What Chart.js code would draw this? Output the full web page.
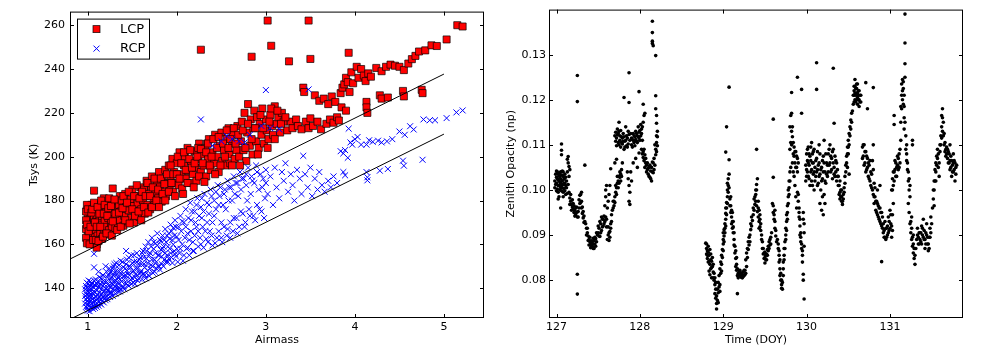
<!DOCTYPE html>
<html>
<head>
<meta charset="utf-8">
<script src="https://cdn.jsdelivr.net/npm/chart.js@4.4.0/dist/chart.umd.min.js"></script>
<style>
  body { margin: 0; background: #fff; width: 981px; height: 354px; position: relative; overflow: hidden; }
  canvas { position: absolute; top: 0; }
  #tsysChart { left: 0; }
  #opacityChart { left: 490px; }
</style>
</head>
<body>
<canvas id="tsysChart" width="490" height="354"></canvas>
<canvas id="opacityChart" width="491" height="354"></canvas>
<script>
// left panel: system temperature vs airmass, [airmass, Tsys K]
const lcpPoints = [
  [1.0,161],[1.0,164.5],[1.0,168],[1.0,171],[1.0,174],[1.01,177],[1.01,162.5],[1.02,166],[1.02,169.5],[1.02,175.5],
  [1.03,163],[1.03,172.5],[1.04,167.5],[1.04,178],[1.05,161.5],[1.05,170],[1.06,165],[1.06,175],[1.07,168],[1.07,172],
  [1.08,163.5],[1.08,176.5],[1.09,166.5],[1.09,170.5],[1.1,160],[1.1,173.5],[1.1,158.5],
  [1.11,164],[1.12,168],[1.12,178],[1.13,171],[1.14,165],[1.14,175],[1.15,169],[1.16,162.5],[1.16,173],[1.17,177],
  [1.18,166],[1.19,170.5],[1.2,174.5],[1.2,164.5],[1.21,168],[1.22,179],[1.23,172],[1.24,166.5],[1.25,176],[1.26,170],
  [1.27,168],[1.28,174],[1.29,179.5],[1.3,171.5],[1.31,167.5],[1.32,176.5],[1.33,173],[1.34,169.5],[1.35,178],
  [1.07,184.5],[1.28,185.5],[1.18,181],[1.36,182],
  [1.36,171],[1.37,175],[1.38,180],[1.4,168.5],[1.41,173],[1.42,183],[1.43,177],[1.45,170.5],[1.46,175.5],[1.48,180.5],
  [1.49,172],[1.5,185],[1.51,177.5],[1.52,170],[1.54,174],[1.55,182],[1.56,178.5],[1.58,172.5],[1.59,186],[1.6,176],
  [1.62,180],[1.63,185],[1.64,174],[1.66,189],[1.67,178],[1.68,183],[1.7,176],[1.71,186.5],[1.72,191],[1.74,180.5],
  [1.75,178],[1.76,184],[1.78,188],[1.79,181],[1.8,193],[1.81,186],[1.83,179.5],[1.84,190],[1.85,184],[1.87,194],
  [1.88,182],[1.9,188],
  [1.91,196],[1.92,185],[1.93,191],[1.95,199],[1.96,184],[1.97,193],[1.99,188],[2.0,197],[2.02,187],[2.03,202],
  [2.05,192],[2.06,185.5],[2.08,196],[2.09,200],[2.1,190],[2.12,204],[2.13,193.5],[2.15,188],[2.16,198],[2.18,192],
  [2.2,202.5],[2.21,195],[2.22,189],[2.24,199],[2.25,206],[2.27,193],[2.28,201],[2.24,204],[2.34,206],[2.58,213],
  [2.3,196],[2.32,204],[2.33,191],[2.35,199],[2.36,208],[2.38,194],[2.4,202],[2.42,197],[2.43,210],[2.45,200],
  [2.47,193],[2.48,205],[2.5,211],[2.51,198],[2.53,203],[2.55,196],[2.56,208],[2.59,201],[2.6,197],[2.62,206],
  [2.63,210],[2.65,199],[2.67,203],[2.68,214],
  [2.7,200],[2.72,207],[2.73,216],[2.75,203],[2.76,220],[2.78,198],[2.79,211],[2.8,224],[2.82,205],[2.83,217],
  [2.85,201],[2.86,213],[2.87,221],[2.89,207],[2.9,218],[2.92,204],[2.93,215],[2.95,210],[2.96,222],[2.98,206],
  [3.0,217],[3.01,212],[3.03,208],[3.05,219],[3.07,214],[3.08,210],[3.1,223],[3.12,215],[3.14,218],[3.16,211],
  [3.18,220],[3.2,216],
  [3.24,212],[3.28,216],[3.3,213],[3.34,217],[3.36,214],[3.4,212.5],[3.42,231.5],[3.43,229.5],[3.45,216],[3.48,213],
  [3.5,217.5],[3.53,214],[3.55,228],[3.58,216],[3.6,225.5],[3.62,212.5],[3.65,226.5],[3.68,215],[3.7,224],[3.72,217],
  [3.74,227.5],[3.76,215.5],[3.78,225],[3.8,218],[3.82,216.5],
  [3.84,229],[3.86,231.5],[3.88,233],[3.9,236],[3.92,234],[3.94,229.5],[3.96,238.5],[3.98,233.5],[4.02,241],[4.04,236],
  [4.07,240],[4.1,237],[4.12,234.5],[4.15,238],[4.18,236.5],
  [3.85,222.5],[3.9,221],[4.13,225],[4.13,222.5],[4.14,220],[4.28,228],[4.3,226.5],[4.37,227],[4.54,230],[4.55,227.5],
  [4.75,230.5],[4.76,229],
  [4.24,240.5],[4.3,239],[4.35,241],[4.4,242],[4.45,241.5],[4.5,241],[4.55,239.5],[4.6,242.5],[4.64,244.5],[4.68,246],
  [4.72,248],[4.79,248.5],[4.86,250.8],[4.92,250.5],[5.03,253.5],[5.15,260],[5.21,259.4],
  [2.27,248.8],[2.84,245.6],[3.02,262.1],[3.48,262.1],[3.06,250.6],[3.26,243.5],[3.5,244.6],[3.93,247.4]
];

const lcpPointsMore = [
  [0.98,163],[0.98,167],[0.98,171],[0.98,175],[0.99,160.5],[0.99,169],[0.99,178],[1.0,176],[1.01,166],[1.02,160],
  [1.03,168],[1.04,174.5],[1.05,176],[1.06,162],[1.07,179],[1.08,170],[1.09,162],[1.1,168],[1.11,177],[1.12,161.5],
  [1.13,174],[1.14,168],[1.15,180],[1.17,163.5],[1.18,174],[1.19,178],[1.21,165],[1.22,173],[1.23,176.5],[1.24,181],
  [1.26,177.5],[1.27,164],[1.28,170.5],[1.3,180.5],[1.31,174],[1.33,166.5],[1.35,174.5],[1.37,168],[1.39,176.5],[1.4,182],
  [1.42,171],[1.44,179],[1.46,184],[1.47,169.5],[1.5,176],[1.52,182],[1.53,173],[1.55,187],[1.57,175],[1.58,181],
  [1.6,171],[1.61,184],[1.63,177],[1.65,182],[1.67,188],[1.68,174.5],[1.7,182],[1.72,177],[1.73,186],[1.75,190],
  [1.77,180],[1.79,185],[1.8,177],[1.82,190],[1.84,183],[1.86,187.5],[1.87,180],[1.89,192],[1.91,184],[1.93,196],
  [1.94,188],[1.96,192],[1.98,182],[2.0,192],[2.01,200],[2.03,190],[2.05,197],[2.07,183],[2.08,202],[2.1,194],
  [2.12,188],[2.14,199],[2.15,203],[2.17,195],[2.19,186],[2.2,197],[2.23,200],[2.25,191],[2.27,203.5],[2.29,197],
  [2.31,188.5],[2.33,202],[2.35,206],[2.37,196],[2.39,200],[2.41,208],[2.43,192],[2.45,204],[2.47,209],[2.49,196],
  [2.52,206],[2.54,200],[2.56,212],[2.58,204],[2.6,208],[2.62,196],[2.64,213],[2.66,206],[2.69,210],[2.71,196],
  [2.74,212],[2.77,204],[2.8,215],[2.84,208],[2.88,213],[2.91,201],[2.94,219],[2.97,213],[3.02,204],[3.04,216],
  [3.06,222],[3.1,208],[3.13,221],[3.17,215],[3.22,218]
];

const rcpPoints = [
  [0.99,131],[0.99,134],[0.99,137],[0.99,140],[1.0,132.5],[1.0,135.5],[1.0,138.5],[1.0,142],[1.01,130.5],[1.01,133.5],
  [1.01,136.5],[1.01,140],[1.02,132],[1.02,135],[1.02,138],[1.02,141.5],[1.03,131],[1.03,134],[1.03,137],[1.03,143],
  [1.04,133],[1.04,136],[1.04,139.5],[1.05,131.5],[1.05,135],[1.05,142],[1.06,133.5],[1.06,137.5],[1.06,140.5],[1.07,132],
  [1.07,135.5],[1.07,143.5],[1.08,134],[1.08,138],[1.09,132.5],[1.09,136],[1.09,141],[1.1,134.5],[1.1,139],[1.11,133],
  [1.11,137],[1.11,143],[1.12,135.5],[1.12,140.5],[1.13,134],[1.13,138],[1.14,136.5],[1.14,142],[1.15,135],[1.15,139.5],
  [1.16,137.5],[1.16,144],[1.17,136],[1.17,141],[1.18,138.5],[1.19,135.5],[1.19,143],[1.2,137],[1.2,140],
  [1.07,155.7],[1.07,149.5],[1.43,157],[1.12,147.5],[1.2,150],[1.3,151],
  [1.21,136],[1.22,139],[1.22,145],[1.23,142],[1.24,137.5],[1.25,147],[1.25,140.5],[1.26,144],[1.27,138],[1.28,149],
  [1.28,141.5],[1.29,146],[1.3,139],[1.31,143.5],[1.32,148],[1.33,140],[1.34,145],[1.35,150.5],[1.35,142],[1.36,138.5],
  [1.37,147],[1.38,143],[1.39,152],[1.4,140.5],[1.41,145.5],[1.42,149],[1.43,142],[1.44,153],[1.45,146.5],[1.46,141],
  [1.47,150],[1.48,144],[1.49,155],[1.5,147.5],[1.51,142.5],[1.52,152],[1.53,145],[1.54,149],[1.55,156],[1.56,143.5],
  [1.57,151],[1.58,146.5],[1.59,154],[1.6,148],
  [1.61,144],[1.62,157],[1.63,151],[1.64,146],[1.65,159],[1.66,153.5],[1.67,148],[1.68,161],[1.69,145.5],[1.7,156],
  [1.71,150.5],[1.72,163],[1.73,147],[1.74,158],[1.75,153],[1.76,160.5],[1.77,149],[1.78,165],[1.79,155],[1.8,150],
  [1.81,162],[1.82,157.5],[1.83,151],[1.84,164],[1.85,159],[1.86,153],[1.87,167],[1.88,161],[1.89,155],[1.9,152],
  [1.91,165],[1.92,158],[1.93,169],[1.94,154],[1.95,162],[1.96,167.5],[1.97,157],[1.98,171],[1.99,154.5],[2.0,163.5],
  [2.02,168],[2.03,156],[2.04,173],[2.06,160],[2.07,152.5],[2.08,170],[2.1,176],[2.11,158],[2.12,165],[2.14,155],
  [2.15,179],[2.16,171],[2.18,161],[2.19,157],[2.2,175],[2.22,168],[2.23,181],[2.24,159],[2.26,163],[2.27,177],
  [2.28,172],[2.3,158.5],[2.31,183],[2.32,166],[2.34,179],[2.35,161],[2.36,174],[2.38,185],[2.39,164],[2.4,170],
  [2.42,180],[2.43,160.5],[2.44,176],[2.46,187],[2.47,166],[2.48,182],[2.5,163],
  [2.52,178],[2.53,168],[2.54,185],[2.56,164],[2.57,189],[2.58,180],[2.6,170],[2.61,186],[2.63,166],[2.64,191],
  [2.65,183],[2.67,172],[2.68,188],[2.7,168],[2.71,193],[2.72,185],[2.74,174],[2.75,190],[2.77,170],[2.78,187],
  [2.8,195],[2.81,176],[2.83,183],[2.84,191],[2.86,173],[2.87,188],[2.89,196],[2.9,178],[2.92,185],[2.94,192],
  [2.95,175],[2.97,190],[2.99,181],[3.0,194],
  [2.56,209.5],[2.62,208],[2.7,207],[2.76,206.5],[2.82,210],[2.27,217],[2.4,205],[2.5,207],[2.95,214],[3.05,213],
  [3.15,212.5],[3.0,230.4],[3.48,230.7],
  [3.02,183],[3.05,191],[3.08,178],[3.1,195],[3.12,186],[3.15,181],[3.18,193],[3.2,189],[3.22,197],[3.25,184],
  [3.28,192],[3.3,187],[3.32,180],[3.35,194],[3.38,190],[3.4,183],[3.42,200.4],[3.44,192],[3.47,186],[3.5,195],
  [3.52,182],[3.55,190],[3.58,185],[3.6,193],[3.63,187],[3.66,184],[3.7,189],[3.73,186],[3.76,191],[3.8,188],
  [3.84,202.5],[3.87,201.5],[3.89,203],[3.92,199.5],[3.95,206.5],[3.97,205.5],[4.0,208],[4.03,209],[4.07,205.5],[4.13,205.5],
  [4.16,207.5],[4.2,206.8],[4.26,207.3],[4.3,206.5],[4.36,207],[4.42,208],[4.5,211.5],[4.56,210],[4.62,213.9],[4.66,212.4],
  [3.93,212.8],
  [3.87,193],[3.89,191.5],[4.13,193],[4.14,190.6],[4.14,189.2],[4.28,193.6],[4.37,194.4],[4.54,198.2],[4.55,195.9],[4.76,198.6],
  [4.77,217],[4.84,216.6],[4.9,216.6],[5.03,217.6],[5.14,220.2],[5.21,221.1]
];

const rcpPointsMore = [
  [0.97,133],[0.97,136.5],[0.97,139.5],[0.98,131.5],[0.98,135],[0.98,138],[0.98,141],[0.99,142.5],[1.0,129.8],[1.01,143.5],
  [1.02,129.5],[1.03,140],[1.04,142],[1.05,138],[1.06,130.5],[1.07,138.5],[1.08,131],[1.08,141.5],[1.09,144],[1.1,131.5],
  [1.1,142],[1.12,132],[1.13,141],[1.13,145],[1.14,133],[1.15,132.5],[1.15,144.5],[1.16,134],[1.17,146],[1.18,133.5],
  [1.18,142],[1.19,139],[1.2,134.5],[1.21,143],[1.21,147.5],[1.22,135],[1.23,139],[1.23,146],[1.24,141],[1.24,149],
  [1.25,136],[1.26,138],[1.26,147.5],[1.27,142.5],[1.27,145],[1.28,136.5],[1.29,140],[1.29,150],[1.3,143],[1.3,147],
  [1.31,137.5],[1.32,141.5],[1.32,151.5],[1.33,144],[1.33,146.5],[1.34,138.5],[1.35,140],[1.36,144],[1.36,148.5],[1.37,139.5],
  [1.37,152.5],[1.38,146],[1.39,141],[1.4,149.5],[1.4,144],[1.41,139.5],[1.42,146],[1.43,151],[1.44,143.5],[1.44,148],
  [1.45,141.5],[1.46,154],[1.47,146],[1.48,149.5],[1.49,142],[1.5,151.5],[1.5,144.5],[1.51,148],[1.52,155],[1.53,142],
  [1.54,146.5],[1.55,152],[1.56,149],[1.57,144.5],[1.58,153],[1.59,147],[1.6,151],[1.61,156],[1.62,146.5],[1.63,154],
  [1.64,149.5],[1.65,144.5],[1.66,157],[1.67,151.5],[1.68,146],[1.69,155],[1.7,149],[1.71,159],[1.72,153],[1.73,150],
  [1.74,161],[1.75,147.5],[1.76,156],[1.77,152],[1.78,159.5],[1.79,150],[1.8,155],[1.81,148.5],[1.82,161.5],[1.83,154.5],
  [1.84,158],[1.85,150],[1.86,162],[1.87,156],[1.88,152],[1.89,164],[1.9,159],[1.91,153.5],[1.92,162.5],[1.93,156],
  [1.94,166],[1.95,151.5],[1.96,160],[1.97,164],[1.98,155.5],[1.99,168],[2.0,158],[2.01,152],[2.02,162],[2.04,158],
  [2.05,166],[2.06,170.5],[2.08,155],[2.09,163],[2.1,168],[2.12,158.5],[2.13,172],[2.14,162],[2.16,166],[2.17,175],
  [2.18,157],[2.2,164],[2.21,170],[2.22,178],[2.24,166],[2.25,173],[2.27,160],[2.28,181],[2.29,168],[2.3,175],
  [2.33,162.5],[2.34,170],[2.36,178],[2.37,166],[2.39,182],[2.4,159.5],[2.42,173],[2.44,184],[2.45,163],[2.47,178],
  [2.49,186],[2.5,170],[2.51,161],[2.53,183],[2.55,176],[2.57,167],[2.59,186],[2.6,163],[2.62,180],[2.64,172],
  [2.66,188],[2.68,165],[2.69,182],[2.72,175],[2.73,190],[2.76,168],[2.78,192],[2.79,180],[2.82,173],[2.85,189],
  [2.88,171],[2.9,193],[2.93,176],[2.96,186],[2.98,172],[3.0,188]
];

// straight fit lines, [airmass, Tsys] end points
const fitUpper = [[0.8,153.3],[5.0,237.7]];
const fitLower = [[0.8,125.8],[5.0,210.3]];

const airmassTicks = [1, 2, 3, 4, 5];
const tsysTicks = [140, 160, 180, 200, 220, 240, 260];

// right panel: zenith opacity vs time, [DOY, opacity np]
const opacityPoints = [
  [126.99,0.1035],[127.0,0.1028],[127.0,0.1015],[127.01,0.1040],[127.01,0.1002],[127.02,0.1022],[127.02,0.0995],[127.03,0.1031],
  [127.03,0.1010],[127.04,0.1038],[127.04,0.1018],[127.05,0.1025],[127.05,0.1005],[127.06,0.1033],[127.06,0.0998],[127.07,0.1020],
  [127.07,0.1042],[127.08,0.1012],[127.08,0.1030],[127.09,0.1003],[127.09,0.1024],[127.1,0.1015],[127.1,0.1035],[127.11,0.0990],
  [127.11,0.1010],[127.06,0.1102],[127.06,0.1088],[127.06,0.1078],[127.13,0.1068],[127.14,0.1060],[127.15,0.1052],[127.16,0.1045],
  [127.14,0.1074],[127.05,0.0960],
  [127.15,0.0995],[127.16,0.0982],[127.17,0.0975],[127.18,0.0968],[127.19,0.0962],[127.2,0.0958],[127.2,0.0970],[127.21,0.0950],
  [127.22,0.0955],[127.23,0.0945],[127.24,0.0962],[127.25,0.0940],[127.26,0.0952],[127.27,0.0978],[127.28,0.0988],[127.29,0.0972],
  [127.3,0.0960],[127.31,0.0948],[127.32,0.0938],[127.33,0.0942],[127.34,0.0930],
  [127.25,0.1254],[127.25,0.1196],[127.25,0.0813],[127.25,0.0769],[127.34,0.1055],
  [127.35,0.0925],[127.36,0.0915],[127.37,0.0905],[127.38,0.0898],[127.39,0.0890],[127.4,0.0885],[127.41,0.0880],[127.42,0.0887],
  [127.43,0.0875],[127.44,0.0893],[127.45,0.0870],[127.46,0.0880],[127.47,0.0892],[127.48,0.0885],[127.49,0.0900],
  [127.5,0.0905],[127.51,0.0915],[127.52,0.0897],[127.53,0.0925],[127.54,0.0910],[127.55,0.0935],[127.56,0.0920],[127.57,0.0942],
  [127.58,0.0930],[127.58,0.0965],[127.59,0.1000],[127.6,0.0918],[127.6,0.1010],[127.61,0.0890],[127.62,0.0900],[127.62,0.0975],
  [127.63,0.0888],[127.64,0.0908],[127.65,0.0925],[127.66,0.0945],[127.65,0.1047],
  [127.68,0.0960],[127.69,0.0975],[127.7,0.0985],[127.71,0.0995],[127.72,0.1005],[127.73,0.1015],[127.74,0.1020],[127.75,0.1030],
  [127.76,0.1028],[127.77,0.1035],[127.7,0.1060],[127.72,0.1068],
  [127.71,0.1128],[127.72,0.1115],[127.73,0.1122],[127.74,0.1105],[127.75,0.1130],[127.76,0.1110],[127.77,0.1095],[127.78,0.1118],
  [127.79,0.1102],[127.8,0.1125],[127.81,0.1090],[127.82,0.1108],[127.83,0.1140],[127.84,0.1098],[127.85,0.1115],[127.86,0.1102],
  [127.87,0.1123],[127.75,0.1150],
  [127.85,0.1040],[127.86,0.1025],[127.87,0.1010],[127.88,0.0995],[127.87,0.0975],[127.88,0.0968],
  [127.87,0.1260],[127.81,0.1205],[127.87,0.1194],[127.99,0.1218],[128.04,0.1190],
  [127.9,0.1100],[127.91,0.1112],[127.92,0.1125],[127.93,0.1105],[127.94,0.1118],[127.95,0.1130],[127.96,0.1108],[127.97,0.1120],
  [127.98,0.1140],[127.99,0.1115],[128.0,0.1132],[128.01,0.1145],[128.02,0.1125],[128.03,0.1110],[128.04,0.1150],[128.05,0.1165],
  [128.06,0.1170],
  [128.03,0.1080],[128.04,0.1072],[128.05,0.1065],[128.06,0.1078],[128.07,0.1060],
  [128.08,0.1055],[128.09,0.1045],[128.1,0.1035],[128.11,0.1050],[128.12,0.1028],[128.13,0.1042],[128.14,0.1020],[128.15,0.1062],
  [128.16,0.1038],[128.17,0.1070],
  [128.15,0.1374],[128.15,0.1349],[128.15,0.1330],[128.15,0.1325],[128.16,0.1320],[128.19,0.1298],
  [128.19,0.1209],[128.19,0.1180],[128.2,0.1165],[128.2,0.1148],[128.21,0.1130],[128.21,0.1118],[128.2,0.1105],[128.21,0.1098],
  [128.2,0.1085],[128.19,0.1078],
  [128.79,0.0882],[128.8,0.0870],[128.8,0.0858],[128.81,0.0865],[128.81,0.0848],[128.82,0.0875],[128.82,0.0840],[128.83,0.0855],
  [128.83,0.0820],[128.84,0.0835],[128.84,0.0812],[128.85,0.0845],[128.86,0.0828],[128.86,0.0805],[128.87,0.0850],[128.88,0.0818],
  [128.89,0.0800],[128.9,0.0790],[128.9,0.0770],[128.91,0.0780],[128.91,0.0760],[128.92,0.0748],[128.92,0.0736],[128.93,0.0755],
  [128.94,0.0772],[128.94,0.0795],[128.95,0.0810],[128.96,0.0790],[128.96,0.0825],[128.97,0.0840],[128.98,0.0855],[128.98,0.0835],
  [128.99,0.0868],[129.0,0.0880],[129.0,0.0890],[129.01,0.0898],[129.01,0.0912],[129.02,0.0905],[129.02,0.0925],[129.03,0.0935],
  [129.03,0.0948],[129.04,0.0960],[129.04,0.0972],[129.05,0.0985],[129.05,0.1000],[129.06,0.1010],[129.06,0.1025],[129.07,0.1035],
  [129.04,0.1140],[129.07,0.1228],[129.03,0.1084],[129.07,0.1067],
  [129.08,0.0980],[129.09,0.0965],[129.09,0.0950],[129.1,0.0940],[129.1,0.0925],[129.11,0.0915],[129.12,0.0930],[129.12,0.0905],
  [129.13,0.0890],[129.14,0.0875],[129.14,0.0860],[129.15,0.0848],[129.16,0.0835],[129.16,0.0822],[129.17,0.0810],[129.18,0.0815],
  [129.17,0.0770],
  [129.19,0.0820],[129.2,0.0812],[129.21,0.0808],[129.22,0.0815],[129.23,0.0805],[129.24,0.0818],[129.25,0.0810],[129.26,0.0822],
  [129.27,0.0815],[129.28,0.0830],[129.27,0.0845],[129.28,0.0860],[129.29,0.0850],[129.3,0.0868],[129.31,0.0878],[129.32,0.0885],
  [129.32,0.0900],[129.33,0.0912],[129.34,0.0920],[129.35,0.0932],[129.36,0.0945],[129.37,0.0955],[129.38,0.0968],[129.38,0.0985],
  [129.39,0.1000],[129.4,0.1012],[129.41,0.1025],
  [129.4,0.1090],[129.39,0.0975],[129.4,0.0965],[129.41,0.0952],[129.42,0.0940],[129.43,0.0930],[129.44,0.0918],[129.45,0.0910],
  [129.42,0.0960],[129.44,0.0945],
  [129.46,0.0900],[129.47,0.0885],[129.48,0.0870],[129.49,0.0860],[129.5,0.0850],[129.5,0.0838],[129.51,0.0845],[129.52,0.0858],
  [129.53,0.0868],[129.54,0.0875],[129.55,0.0885],[129.56,0.0878],[129.57,0.0895],
  [129.6,0.1157],[129.6,0.1028],[129.59,0.0970],[129.6,0.0950],[129.61,0.0935],[129.62,0.0915],[129.63,0.0898],[129.64,0.0885],
  [129.62,0.0955],
  [129.66,0.0870],[129.67,0.0855],[129.67,0.0840],[129.68,0.0825],[129.68,0.0810],[129.69,0.0800],[129.7,0.0790],[129.7,0.0782],
  [129.71,0.0795],[129.72,0.0810],
  [129.72,0.0840],[129.73,0.0855],[129.73,0.0870],[129.74,0.0885],[129.75,0.0900],[129.75,0.0915],[129.76,0.0930],[129.77,0.0950],
  [129.77,0.0965],[129.78,0.0985],[129.79,0.1005],[129.79,0.1020],[129.8,0.1040],
  [129.8,0.1140],[129.81,0.1165],[129.82,0.1130],[129.82,0.1100],[129.83,0.1118],[129.84,0.1080],[129.85,0.1095],[129.86,0.1060],
  [129.87,0.1085],[129.88,0.1050],[129.89,0.1070],[129.82,0.1216],[129.89,0.1250],[129.82,0.1170],[129.84,0.1040],[129.86,0.1010],
  [129.87,0.0985],[129.88,0.0960],[129.89,0.0995],
  [129.9,0.0975],[129.91,0.0960],[129.91,0.0940],[129.92,0.0920],[129.93,0.0905],[129.93,0.0885],[129.94,0.0870],[129.95,0.0855],
  [129.95,0.0840],[129.96,0.0950],[129.97,0.0925],[129.94,0.1223],[129.94,0.1170],[129.96,0.0813],[129.96,0.0800],[129.97,0.0758],
  [129.99,0.1020],[130.0,0.1045],[130.0,0.1080],[130.01,0.1065],[130.02,0.1030],[130.02,0.1095],[130.03,0.1055],[130.04,0.1010],
  [130.04,0.1075],[130.05,0.1040],[130.06,0.1105],[130.06,0.1020],[130.07,0.1060],[130.08,0.1035],[130.08,0.1085],[130.09,0.1000],
  [130.1,0.1050],[130.12,0.1282],[130.12,0.1223],
  [130.11,0.1030],[130.12,0.1070],[130.13,0.1045],[130.14,0.1015],[130.15,0.1060],[130.16,0.1035],[130.17,0.1000],[130.18,0.1050],
  [130.19,0.1025],[130.2,0.1075],[130.21,0.0990],[130.22,0.1040],[130.23,0.1015],[130.24,0.1060],[130.25,0.1030],[130.16,0.0970],
  [130.18,0.0955],[130.2,0.0945],[130.15,0.1100],[130.21,0.1110],
  [130.26,0.1080],[130.27,0.1055],[130.28,0.1100],[130.29,0.1040],[130.3,0.1070],[130.31,0.1025],[130.32,0.1090],[130.33,0.1050],
  [130.34,0.1030],[130.35,0.1065],[130.36,0.1020],[130.37,0.1045],[130.32,0.1270],[130.33,0.1148],
  [130.38,0.1030],[130.39,0.1010],[130.4,0.0995],[130.41,0.0985],[130.42,0.0975],[130.43,0.0968],[130.44,0.0980],[130.45,0.0995],
  [130.4,0.1020],[130.42,0.1000],
  [130.46,0.1015],[130.47,0.1040],[130.48,0.1060],[130.49,0.1080],[130.5,0.1095],[130.5,0.1110],[130.51,0.1125],[130.52,0.1140],
  [130.53,0.1155],[130.54,0.1170],[130.49,0.1050],[130.51,0.1035],
  [130.56,0.1190],[130.57,0.1230],[130.57,0.1210],[130.58,0.1245],[130.58,0.1200],[130.59,0.1225],[130.59,0.1195],[130.6,0.1215],
  [130.6,0.1235],[130.61,0.1205],[130.61,0.1190],[130.62,0.1220],[130.62,0.1200],[130.63,0.1185],[130.64,0.1210],[130.65,0.1195],
  [130.71,0.1238],[130.73,0.1180],[130.8,0.1227],
  [130.67,0.1095],[130.68,0.1075],[130.69,0.1100],[130.7,0.1060],[130.71,0.1085],[130.72,0.1045],[130.73,0.1070],[130.74,0.1030],
  [130.75,0.1055],[130.76,0.1020],[130.77,0.1040],[130.78,0.1005],[130.79,0.1065],[130.8,0.1100],[130.81,0.1015],
  [130.8,0.0990],[130.81,0.0970],[130.82,0.0985],[130.83,0.0955],[130.84,0.0975],[130.85,0.0945],[130.86,0.0965],[130.87,0.0935],
  [130.88,0.0960],[130.89,0.0925],[130.9,0.0950],[130.91,0.0915],[130.85,0.1000],[130.88,0.1010],
  [130.92,0.0905],[130.93,0.0895],[130.94,0.0930],[130.95,0.0890],[130.96,0.0915],[130.97,0.0900],[130.98,0.0940],[130.99,0.0910],
  [131.0,0.0955],[131.01,0.0925],[131.02,0.0895],[131.03,0.0945],[131.04,0.0970],[130.9,0.0841],
  [131.02,0.1000],[131.03,0.1025],[131.04,0.1010],[131.05,0.1040],[131.06,0.1065],[131.07,0.1030],[131.08,0.1050],[131.09,0.1075],
  [131.1,0.1045],[131.11,0.1080],[131.12,0.1060],[131.05,0.1165],[131.05,0.1145],
  [131.13,0.1150],[131.13,0.1185],[131.14,0.1210],[131.14,0.1235],[131.15,0.1200],[131.15,0.1245],[131.16,0.1225],[131.16,0.1190],
  [131.17,0.1160],[131.17,0.1135],[131.18,0.1390],[131.18,0.1326],[131.18,0.1280],[131.18,0.1250],
  [131.19,0.1120],[131.2,0.1100],[131.2,0.1080],[131.21,0.1060],[131.22,0.1040],[131.23,0.1025],[131.24,0.1010],[131.27,0.1110],
  [131.27,0.1100],
  [131.22,0.0970],[131.23,0.0950],[131.24,0.0925],[131.25,0.0905],[131.26,0.0890],[131.27,0.0875],[131.28,0.0860],[131.29,0.0848],
  [131.3,0.0835],[131.26,0.0940],[131.28,0.0900],
  [131.33,0.0915],[131.34,0.0895],[131.35,0.0880],[131.36,0.0905],[131.37,0.0885],[131.38,0.0920],[131.39,0.0900],[131.4,0.0935],
  [131.41,0.0890],[131.42,0.0870],[131.43,0.0905],[131.44,0.0925],[131.45,0.0880],[131.46,0.0865],[131.47,0.0895],[131.48,0.0915],
  [131.49,0.0940],
  [131.52,0.0980],[131.53,0.1000],[131.54,0.1020],[131.55,0.1040],[131.55,0.1060],[131.56,0.1075],[131.57,0.1090],[131.58,0.1050],
  [131.59,0.1030],[131.53,0.0965],
  [131.6,0.1100],[131.61,0.1120],[131.62,0.1140],[131.63,0.1160],[131.63,0.1180],[131.64,0.1150],[131.65,0.1125],[131.66,0.1105],
  [131.67,0.1090],
  [131.68,0.1095],[131.69,0.1070],[131.7,0.1085],[131.71,0.1060],[131.72,0.1045],[131.73,0.1075],[131.74,0.1030],[131.75,0.1055],
  [131.76,0.1040],[131.77,0.1065],[131.78,0.1020],[131.79,0.1050],[131.72,0.1100],[131.76,0.1080]
];

const opacityPointsMore = [
  [126.98,0.1020],[126.98,0.1005],[126.99,0.1012],[127.0,0.0998],[127.0,0.1042],[127.01,0.1025],[127.02,0.1035],[127.02,0.1010],
  [127.03,0.1020],[127.04,0.1000],[127.04,0.1030],[127.05,0.1040],[127.05,0.1015],[127.06,0.1010],[127.07,0.1005],[127.08,0.1040],
  [127.08,0.0995],[127.09,0.1015],[127.1,0.0998],[127.11,0.1028],[127.12,0.1005],[127.12,0.1020],[127.13,0.0992],[127.13,0.1040],
  [127.14,0.1012],[127.15,0.1030],[127.03,0.0985],[127.02,0.0980],[127.08,0.0985],
  [127.16,0.0968],[127.17,0.0990],[127.18,0.0955],[127.19,0.0978],[127.21,0.0965],[127.22,0.0942],[127.23,0.0960],[127.24,0.0950],
  [127.26,0.0940],[127.27,0.0960],[127.28,0.0970],[127.29,0.0990],[127.3,0.0975],[127.31,0.0962],[127.32,0.0952],[127.33,0.0928],
  [127.3,0.0995],
  [127.36,0.0900],[127.37,0.0915],[127.38,0.0888],[127.39,0.0878],[127.4,0.0895],[127.41,0.0872],[127.42,0.0878],[127.43,0.0885],
  [127.44,0.0880],[127.45,0.0888],[127.46,0.0895],[127.47,0.0875],[127.48,0.0905],[127.44,0.0870],
  [127.5,0.0920],[127.51,0.0898],[127.52,0.0930],[127.53,0.0905],[127.54,0.0940],[127.55,0.0918],[127.56,0.0935],[127.57,0.0925],
  [127.59,0.0940],[127.6,0.0935],[127.61,0.0960],[127.59,0.0985],[127.62,0.0918],[127.63,0.0905],[127.64,0.0895],[127.65,0.0915],
  [127.66,0.0930],[127.67,0.0955],[127.64,0.1010],[127.63,0.0990],
  [127.68,0.0975],[127.69,0.0965],[127.7,0.0972],[127.71,0.1010],[127.72,0.0990],[127.73,0.1030],[127.74,0.1005],[127.75,0.1015],
  [127.76,0.1040],[127.77,0.1020],[127.78,0.1045],[127.79,0.1060],[127.78,0.1030],
  [127.7,0.1120],[127.71,0.1108],[127.72,0.1098],[127.73,0.1135],[127.74,0.1125],[127.75,0.1100],[127.76,0.1120],[127.77,0.1132],
  [127.78,0.1105],[127.79,0.1115],[127.8,0.1108],[127.81,0.1118],[127.82,0.1095],[127.83,0.1110],[127.84,0.1120],[127.85,0.1095],
  [127.86,0.1130],[127.88,0.1110],[127.89,0.1125],[127.9,0.1115],[127.91,0.1095],[127.92,0.1110],[127.93,0.1120],[127.94,0.1098],
  [127.95,0.1112],[127.96,0.1125],[127.97,0.1105],[127.98,0.1118],[127.99,0.1128],[128.0,0.1110],[128.01,0.1120],[128.02,0.1135],
  [128.03,0.1140],[127.89,0.1040],[127.9,0.1020],[127.92,0.1060],[127.95,0.1070],[127.97,0.1050],[127.99,0.1082],
  [128.02,0.1090],[128.04,0.1085],[128.05,0.1090],[128.06,0.1050],[128.07,0.1070],[128.08,0.1040],[128.09,0.1060],[128.1,0.1048],
  [128.11,0.1030],[128.12,0.1055],[128.13,0.1025],[128.14,0.1050],[128.15,0.1040],[128.16,0.1060],[128.17,0.1045],[128.18,0.1055],
  [128.18,0.1100],[128.19,0.1090],[128.2,0.1120],
  [128.8,0.0880],[128.81,0.0855],[128.82,0.0862],[128.83,0.0842],[128.84,0.0868],[128.85,0.0825],[128.85,0.0858],[128.86,0.0842],
  [128.87,0.0830],[128.88,0.0805],[128.88,0.0835],[128.89,0.0815],[128.9,0.0805],[128.91,0.0795],[128.92,0.0765],[128.93,0.0780],
  [128.94,0.0750],[128.95,0.0785],[128.96,0.0775],[128.97,0.0815],[128.98,0.0820],[128.99,0.0850],[129.0,0.0865],[129.0,0.0905],
  [129.01,0.0885],[129.02,0.0915],[129.03,0.0920],[129.03,0.0960],[129.04,0.0945],[129.05,0.0970],[129.05,0.1015],[129.06,0.0995],
  [129.07,0.1005],
  [129.08,0.0965],[129.09,0.0985],[129.1,0.0955],[129.11,0.0930],[129.11,0.0950],[129.12,0.0918],[129.13,0.0905],[129.13,0.0878],
  [129.15,0.0865],[129.15,0.0830],[129.16,0.0850],[129.17,0.0825],[129.18,0.0805],[129.19,0.0812],[129.2,0.0822],[129.21,0.0816],
  [129.22,0.0806],[129.23,0.0812],[129.24,0.0808],[129.25,0.0822],[129.26,0.0812],[129.29,0.0870],[129.3,0.0885],[129.31,0.0895],
  [129.33,0.0925],[129.34,0.0940],[129.36,0.0960],[129.37,0.0980],[129.39,0.0990],[129.4,0.1000],[129.42,0.0975],[129.43,0.0955],
  [129.44,0.0935],[129.45,0.0925],[129.43,0.0915],
  [129.46,0.0890],[129.47,0.0870],[129.48,0.0858],[129.49,0.0848],[129.5,0.0862],[129.51,0.0855],[129.52,0.0845],[129.53,0.0855],
  [129.54,0.0865],[129.55,0.0870],[129.56,0.0890],[129.57,0.0880],[129.58,0.0905],[129.6,0.0965],[129.61,0.0945],[129.62,0.0930],
  [129.63,0.0910],[129.65,0.0890],[129.66,0.0880],[129.67,0.0865],[129.68,0.0845],[129.69,0.0815],[129.7,0.0800],[129.71,0.0780],
  [129.72,0.0825],
  [129.73,0.0845],[129.74,0.0870],[129.75,0.0890],[129.76,0.0910],[129.76,0.0945],[129.77,0.0935],[129.78,0.0970],[129.78,0.1000],
  [129.79,0.0990],[129.8,0.1020],[129.8,0.1090],[129.81,0.1105],[129.81,0.1050],[129.83,0.1060],[129.83,0.1140],[129.84,0.1105],
  [129.85,0.1075],[129.85,0.1030],[129.86,0.1085],[129.87,0.1050],[129.88,0.1075],[129.89,0.1040],[129.9,0.1060],
  [129.9,0.0990],[129.91,0.0950],[129.92,0.0935],[129.92,0.0900],[129.93,0.0895],[129.94,0.0880],[129.95,0.0865],[129.96,0.0935],
  [129.97,0.0905],[129.97,0.0875],
  [129.99,0.1055],[130.0,0.1030],[130.01,0.1090],[130.01,0.1040],[130.02,0.1060],[130.03,0.1080],[130.03,0.1025],[130.05,0.1065],
  [130.05,0.1095],[130.06,0.1045],[130.07,0.1080],[130.07,0.1010],[130.08,0.1060],[130.09,0.1040],[130.09,0.1090],[130.1,0.1020],
  [130.11,0.1065],[130.12,0.1040],[130.13,0.1085],[130.13,0.1010],[130.14,0.1055],[130.15,0.1030],[130.16,0.1080],[130.17,0.1045],
  [130.18,0.1020],[130.19,0.1065],[130.2,0.1040],[130.21,0.1060],[130.22,0.1020],[130.23,0.1080],[130.24,0.1035],[130.25,0.1055],
  [130.26,0.1040],[130.27,0.1090],[130.28,0.1060],[130.29,0.1075],[130.3,0.1045],[130.31,0.1085],[130.32,0.1060],[130.33,0.1035],
  [130.34,0.1075],[130.35,0.1040],[130.36,0.1060],[130.37,0.1030],[130.19,0.0985],[130.22,0.0970],
  [130.38,0.1010],[130.39,0.0990],[130.4,0.0980],[130.41,0.1000],[130.42,0.0985],[130.43,0.0975],[130.44,0.0990],[130.45,0.1005],
  [130.46,0.1030],[130.47,0.1055],[130.48,0.1075],[130.49,0.1095],[130.5,0.1080],[130.51,0.1100],[130.52,0.1120],[130.53,0.1135],
  [130.54,0.1150],[130.55,0.1175],
  [130.56,0.1210],[130.57,0.1195],[130.57,0.1220],[130.58,0.1215],[130.58,0.1230],[130.59,0.1210],[130.6,0.1200],[130.6,0.1225],
  [130.61,0.1215],[130.61,0.1235],[130.62,0.1210],[130.63,0.1200],[130.63,0.1220],[130.64,0.1195],[130.65,0.1210],
  [130.67,0.1070],[130.68,0.1100],[130.69,0.1055],[130.7,0.1085],[130.71,0.1040],[130.72,0.1075],[130.73,0.1050],[130.74,0.1060],
  [130.75,0.1025],[130.76,0.1065],[130.77,0.1010],[130.78,0.1035],[130.79,0.1000],[130.8,0.1045],[130.81,0.0985],[130.82,0.1005],
  [130.83,0.0975],[130.84,0.0950],[130.85,0.0970],[130.86,0.0940],[130.87,0.0960],[130.88,0.0930],[130.89,0.0950],[130.9,0.0920],
  [130.91,0.0940],
  [130.92,0.0925],[130.93,0.0910],[130.94,0.0895],[130.95,0.0915],[130.96,0.0895],[130.97,0.0920],[130.98,0.0905],[130.99,0.0930],
  [131.0,0.0915],[131.01,0.0945],[131.02,0.0920],[131.03,0.0910],
  [131.03,0.1000],[131.04,0.1040],[131.05,0.1020],[131.06,0.1045],[131.07,0.1060],[131.08,0.1030],[131.09,0.1055],[131.1,0.1070],
  [131.11,0.1050],[131.12,0.1090],[131.13,0.1110],[131.14,0.1180],[131.15,0.1220],[131.16,0.1240],[131.17,0.1210],[131.17,0.1185],
  [131.18,0.1150],
  [131.19,0.1090],[131.2,0.1065],[131.21,0.1045],[131.22,0.1020],[131.23,0.1000],[131.24,0.0985],[131.25,0.0930],[131.26,0.0915],
  [131.27,0.0895],[131.28,0.0880],[131.29,0.0870],[131.3,0.0855],[131.31,0.0870],[131.32,0.0890],[131.33,0.0900],[131.34,0.0880],
  [131.35,0.0905],[131.36,0.0890],[131.37,0.0905],[131.38,0.0880],[131.39,0.0915],[131.4,0.0895],[131.41,0.0910],[131.42,0.0890],
  [131.43,0.0880],[131.44,0.0900],[131.45,0.0895],[131.46,0.0880],[131.47,0.0870],[131.48,0.0895],[131.49,0.0905],[131.5,0.0925],
  [131.51,0.0960],[131.52,0.1000],[131.53,0.1020],[131.54,0.1045],[131.55,0.1020],[131.56,0.1055],[131.57,0.1070],[131.58,0.1080],
  [131.59,0.1060],[131.6,0.1085],[131.61,0.1100],[131.62,0.1115],[131.62,0.1165],[131.63,0.1130],[131.64,0.1120],[131.65,0.1100],
  [131.66,0.1085],[131.67,0.1075],[131.68,0.1080],[131.69,0.1090],[131.7,0.1060],[131.71,0.1080],[131.72,0.1065],[131.73,0.1050],
  [131.74,0.1065],[131.75,0.1040],[131.76,0.1060],[131.77,0.1045],[131.78,0.1060],[131.79,0.1035],[131.8,0.1055]
];

const doyTicks = [127, 128, 129, 130, 131];
const opacityTicks = [0.08, 0.09, 0.10, 0.11, 0.12, 0.13];

const FONT = { family: 'DejaVu Sans', size: 11 };
const toXY = arr => arr.map(p => ({ x: p[0], y: p[1] }));
const setTicks = list => scale => { scale.ticks = list.map(v => ({ value: v })); };

// matplotlib style frame with inward ticks on all four sides
const framePlugin = {
  id: 'frame',
  afterDatasetsDraw(chart) {
    const { ctx, chartArea: a, scales } = chart;
    ctx.save();
    ctx.strokeStyle = '#000';
    ctx.lineWidth = 1;
    ctx.strokeRect(a.left + 0.5, a.top + 0.5, a.right - a.left - 1, a.bottom - a.top - 1);
    ctx.beginPath();
    scales.x.ticks.forEach(t => {
      const px = Math.round(scales.x.getPixelForValue(t.value)) + 0.5;
      ctx.moveTo(px, a.bottom); ctx.lineTo(px, a.bottom - 4);
      ctx.moveTo(px, a.top); ctx.lineTo(px, a.top + 4);
    });
    scales.y.ticks.forEach(t => {
      const py = Math.round(scales.y.getPixelForValue(t.value)) + 0.5;
      ctx.moveTo(a.left, py); ctx.lineTo(a.left + 4, py);
      ctx.moveTo(a.right, py); ctx.lineTo(a.right - 4, py);
    });
    ctx.stroke();
    ctx.restore();
  }
};

// legend box in the upper left corner of the left panel
const legendPlugin = {
  id: 'boxLegend',
  afterDraw(chart) {
    const { ctx, chartArea: a } = chart;
    const x0 = a.left + 7, y0 = a.top + 7;
    ctx.save();
    ctx.fillStyle = '#fff';
    ctx.fillRect(x0, y0, 72, 40);
    ctx.strokeStyle = '#000';
    ctx.lineWidth = 1;
    ctx.strokeRect(x0 + 0.5, y0 + 0.5, 72, 40);
    // LCP marker
    ctx.fillStyle = '#ff0000';
    ctx.fillRect(x0 + 16, y0 + 7, 7, 7);
    ctx.strokeStyle = 'rgba(0,0,0,0.85)';
    ctx.lineWidth = 0.8;
    ctx.strokeRect(x0 + 16, y0 + 7, 7, 7);
    // RCP marker
    ctx.strokeStyle = '#0000ff';
    ctx.lineWidth = 1;
    ctx.beginPath();
    ctx.moveTo(x0 + 16.5, y0 + 27); ctx.lineTo(x0 + 22.5, y0 + 33);
    ctx.moveTo(x0 + 22.5, y0 + 27); ctx.lineTo(x0 + 16.5, y0 + 33);
    ctx.stroke();
    ctx.fillStyle = '#000';
    ctx.font = '13px "DejaVu Sans"';
    ctx.textBaseline = 'middle';
    ctx.fillText('LCP', x0 + 43, y0 + 11);
    ctx.fillText('RCP', x0 + 43, y0 + 30);
    ctx.restore();
  }
};

function axisX(min, max, ticks, title, fmt) {
  return {
    type: 'linear', min: min, max: max,
    afterBuildTicks: setTicks(ticks),
    afterFit: s => { s.height = 36; },
    grid: { display: false, drawTicks: false },
    border: { display: false },
    ticks: { font: FONT, color: '#000', padding: 3, maxRotation: 0, callback: fmt },
    title: { display: true, text: title, font: FONT, color: '#000', padding: { top: 0, bottom: 7 } }
  };
}

function axisY(min, max, ticks, title, width, pad, titlePad, fmt) {
  return {
    type: 'linear', min: min, max: max,
    afterBuildTicks: setTicks(ticks),
    afterFit: s => { s.width = width; },
    grid: { display: false, drawTicks: false },
    border: { display: false },
    ticks: { font: FONT, color: '#000', padding: pad, callback: fmt },
    title: { display: true, text: title, font: FONT, color: '#000', padding: { top: titlePad, bottom: 0 } }
  };
}

const common = {
  responsive: false,
  animation: false,
  events: [],
  plugins: { legend: { display: false }, tooltip: { enabled: false } }
};

new Chart(document.getElementById('tsysChart'), {
  type: 'scatter',
  data: {
    datasets: [
      { label: 'fit LCP', type: 'line', data: toXY(fitUpper), borderColor: '#000', borderWidth: 1,
        pointRadius: 0, showLine: true, fill: false, order: 1 },
      { label: 'fit RCP', type: 'line', data: toXY(fitLower), borderColor: '#000', borderWidth: 1,
        pointRadius: 0, showLine: true, fill: false, order: 1 },
      { label: 'RCP', data: toXY(rcpPoints.concat(rcpPointsMore)), pointStyle: 'crossRot', pointRadius: 4.2,
        borderColor: '#0000ff', borderWidth: 1, backgroundColor: '#0000ff', order: 2 },
      { label: 'LCP', data: toXY(lcpPoints.concat(lcpPointsMore)), pointStyle: 'rect', pointRadius: 5,
        backgroundColor: '#ff0000', borderColor: 'rgba(0,0,0,0.85)', borderWidth: 0.8, order: 3 }
    ]
  },
  options: Object.assign({}, common, {
    layout: { padding: { left: 0, right: 6, top: 7, bottom: 0 } },
    scales: {
      x: axisX(0.8, 5.45, airmassTicks, 'Airmass', v => String(v)),
      y: axisY(126.4, 266.2, tsysTicks, 'Tsys (K)', 70, 5, 28, v => String(v))
    }
  }),
  plugins: [framePlugin, legendPlugin]
});

new Chart(document.getElementById('opacityChart'), {
  type: 'scatter',
  data: {
    datasets: [
      { label: 'Zenith opacity', data: toXY(opacityPoints.concat(opacityPointsMore)), pointStyle: 'circle', pointRadius: 1.8,
        backgroundColor: '#000', borderWidth: 0 }
    ]
  },
  options: Object.assign({}, common, {
    layout: { padding: { left: 0, right: 18, top: 7, bottom: 0 } },
    scales: {
      x: axisX(126.91, 131.876, doyTicks, 'Time (DOY)', v => String(v)),
      y: axisY(0.0716, 0.14, opacityTicks, 'Zenith Opacity (np)', 59, 3, 15, v => v.toFixed(2))
    }
  }),
  plugins: [framePlugin]
});
</script>
</body>
</html>
